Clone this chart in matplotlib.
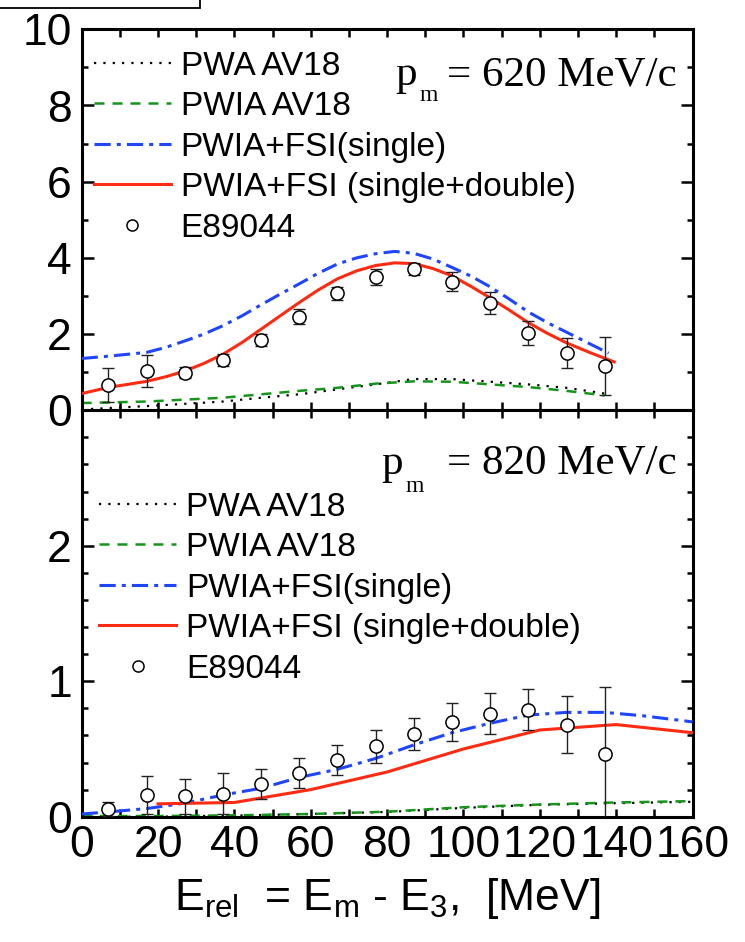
import matplotlib
matplotlib.use("Agg")
import matplotlib.pyplot as plt
from matplotlib.patches import Rectangle
from matplotlib.ticker import MultipleLocator

plt.rcParams['font.family'] = ['Liberation Sans', 'DejaVu Sans']
plt.rcParams['mathtext.fontset'] = 'custom'
plt.rcParams['mathtext.rm'] = 'Liberation Sans'
plt.rcParams['mathtext.it'] = 'Liberation Sans'
plt.rcParams['mathtext.bf'] = 'Liberation Sans:bold'

# ---------------- data ----------------
labels = ["PWA AV18", "PWIA AV18", "PWIA+FSI(single)", "PWIA+FSI (single+double)", "E89044"]

# experimental points (E89044)
E_data = [7, 17, 27, 37, 47, 57, 67, 77, 87, 97, 107, 117, 127, 137]
top_data = [0.67, 1.03, 0.99, 1.32, 1.85, 2.46, 3.07, 3.51, 3.71, 3.38, 2.81, 2.03, 1.50, 1.16]
top_err = [0.44, 0.42, 0.14, 0.15, 0.15, 0.20, 0.17, 0.21, 0.16, 0.24, 0.29, 0.32, 0.40, 0.77]
bot_data = [0.055, 0.16, 0.15, 0.17, 0.24, 0.32, 0.42, 0.52, 0.61, 0.70, 0.76, 0.79, 0.68, 0.46]
bot_err = [0.05, 0.14, 0.13, 0.15, 0.11, 0.11, 0.11, 0.12, 0.12, 0.14, 0.15, 0.15, 0.21, 0.50]

# top panel (p_m = 620 MeV/c) curves
top_pwa_E = [0, 7, 17, 27, 37, 47, 57, 67, 77, 87, 97, 107, 117, 127, 137]
top_pwa = [0.02, 0.06, 0.11, 0.17, 0.23, 0.33, 0.42, 0.55, 0.68, 0.82, 0.82, 0.75, 0.68, 0.59, 0.44]
top_pwia_E = [0, 17, 27, 37, 47, 57, 67, 77, 87, 97, 107, 117, 127, 137]
top_pwia = [0.19, 0.23, 0.28, 0.33, 0.42, 0.51, 0.59, 0.70, 0.76, 0.75, 0.68, 0.61, 0.51, 0.39]
top_single_E = [0, 7, 17, 22, 27, 32, 37, 42, 47, 52, 57, 62, 67, 72, 77, 82, 87, 92,
                97, 102, 107, 112, 117, 122, 127, 132, 138]
top_single = [1.36, 1.42, 1.52, 1.65, 1.82, 2.00, 2.22, 2.48, 2.77, 3.05, 3.32, 3.60, 3.84,
              4.00, 4.11, 4.17, 4.12, 3.97, 3.75, 3.52, 3.24, 2.92, 2.58, 2.30, 2.05, 1.80, 1.50]
top_double_E = [0, 7, 17, 22, 27, 32, 37, 42, 47, 52, 57, 62, 67, 72, 77, 82, 87, 92,
                97, 102, 107, 112, 117, 122, 127, 133, 139.5]
top_double = [0.44, 0.60, 0.76, 0.88, 1.03, 1.23, 1.47, 1.78, 2.13, 2.48, 2.83, 3.16, 3.45,
              3.66, 3.80, 3.87, 3.85, 3.72, 3.53, 3.25, 2.95, 2.63, 2.30, 2.02, 1.77, 1.52, 1.27]

# bottom panel (p_m = 820 MeV/c) curves
bot_pwa_E = [0, 20, 40, 60, 80, 100, 120, 140, 160]
bot_pwa = [0.0, 0.0, 0.008, 0.02, 0.035, 0.065, 0.088, 0.10, 0.11]
bot_pwia_E = [0, 20, 40, 60, 80, 100, 120, 140, 160]
bot_pwia = [0.005, 0.005, 0.01, 0.02, 0.037, 0.07, 0.09, 0.105, 0.115]
bot_single_E = [0, 7, 17, 27, 37, 47, 57, 67, 77, 87, 97, 107, 117, 127, 137, 147, 160]
bot_single = [0.02, 0.035, 0.06, 0.10, 0.16, 0.21, 0.29, 0.35, 0.43, 0.53, 0.62, 0.69,
              0.75, 0.77, 0.77, 0.745, 0.70]
bot_double_E = [20, 40, 60, 80, 100, 120, 140, 160]
bot_double = [0.095, 0.105, 0.20, 0.33, 0.50, 0.64, 0.68, 0.62]

xticks = [0, 20, 40, 60, 80, 100, 120, 140, 160]
top_yticks = [0, 2, 4, 6, 8, 10]
bot_yticks = [0, 1, 2]

# ---------------- styles ----------------
C_BLACK = "black"
C_GREEN = "#15951a"
C_BLUE = "#1f45ff"
C_RED = "#ff2a12"

W, H = 745, 942
fig = plt.figure(figsize=(W / 100, H / 100), dpi=100)

x0, x1 = 81.7, 692.5
y_top0, y_mid, y_bot1 = 29.3, 410.3, 816.7


def ax_rect(xl, xr, yt, yb):
    return [xl / W, 1 - yb / H, (xr - xl) / W, (yb - yt) / H]


ax1 = fig.add_axes(ax_rect(x0, x1, y_top0, y_mid))
ax2 = fig.add_axes(ax_rect(x0, x1, y_mid, y_bot1))


def draw_panel(ax, pwaE, pwa, pwiaE, pwia, sE, s, dE, d, vals, errs):
    ax.plot(pwaE, pwa, color=C_BLACK, lw=1.6, dashes=(1, 3.2), label=labels[0], zorder=2)
    ax.plot(pwiaE, pwia, color=C_GREEN, lw=1.8, dashes=(4, 3.2), label=labels[1], zorder=2)
    ax.plot(sE, s, color=C_BLUE, lw=2.2, dashes=(5.3, 2.0, 1.3, 2.0), label=labels[2], zorder=3)
    ax.plot(dE, d, color=C_RED, lw=2.2, label=labels[3], zorder=3)
    ax.errorbar(E_data, vals, yerr=errs, fmt='none', ecolor='#222222', elinewidth=1.0,
                capsize=4.3, capthick=1.0, zorder=4)
    ax.plot(E_data, vals, 'o', mfc='white', mec='black', ms=9.5, mew=1.1, label=labels[4],
            zorder=5)
    ax.set_xlim(0, 160)
    ax.xaxis.set_major_locator(MultipleLocator(20))
    ax.xaxis.set_minor_locator(MultipleLocator(10))
    ax.tick_params(axis='both', which='both', direction='in', top=True, right=True,
                   width=1.8, labelsize=32)
    ax.tick_params(axis='y', which='major', length=8.5, pad=7)
    ax.tick_params(axis='y', which='minor', length=4.5)
    ax.tick_params(axis='x', which='both', length=5.5, pad=6)
    for sp in ax.spines.values():
        sp.set_linewidth(2.2)


draw_panel(ax1, top_pwa_E, top_pwa, top_pwia_E, top_pwia, top_single_E, top_single,
           top_double_E, top_double, top_data, top_err)
draw_panel(ax2, bot_pwa_E, bot_pwa, bot_pwia_E, bot_pwia, bot_single_E, bot_single,
           bot_double_E, bot_double, bot_data, bot_err)

ax1.set_ylim(0, 10)
ax1.set_yticks(top_yticks)
ax1.yaxis.set_minor_locator(MultipleLocator(1))
ax1.set_xticks(xticks)
ax1.tick_params(axis='x', labelbottom=False)

ax2.set_ylim(0, 3.0)
ax2.set_yticks(bot_yticks)
ax2.yaxis.set_minor_locator(MultipleLocator(0.2))
ax2.set_xticks(xticks)
ax2.set_xticklabels([str(v) for v in xticks])

ax2.set_xlabel(r'E$_{\mathrm{rel}}$  = E$_{\mathrm{m}}$ - E$_{3}$,  [MeV]', fontsize=32,
               labelpad=7)

leg_kw = dict(loc='upper left', frameon=False, fontsize=24, handlelength=2.3,
              handletextpad=0.3, labelspacing=0.285, borderpad=0, borderaxespad=0,
              numpoints=1)
l1 = ax1.legend(bbox_to_anchor=(0.020, 0.944), **leg_kw)
l2 = ax2.legend(bbox_to_anchor=(0.029, 0.800), **leg_kw)
for leg in (l1, l2):
    for h in leg.legend_handles:
        if h.get_marker() == 'o':
            h.set_markersize(8)

# p_m annotations (Times-like serif)
serif = ['Liberation Serif', 'DejaVu Serif']


def fx(px):
    return px / W


def fy(py):
    return 1 - py / H


fig.text(fx(395), fy(85), "p", family=serif, fontsize=31, va='baseline', ha='left')
fig.text(fx(419), fy(101), "m", family=serif, fontsize=17, va='baseline', ha='left')
fig.text(fx(677), fy(85), "= 620 MeV/c", family=serif, fontsize=31, va='baseline', ha='right')

fig.text(fx(381), fy(474), "p", family=serif, fontsize=31, va='baseline', ha='left')
fig.text(fx(405), fy(492), "m", family=serif, fontsize=17, va='baseline', ha='left')
fig.text(fx(677), fy(474), "= 820 MeV/c", family=serif, fontsize=31, va='baseline', ha='right')

# clipped frame at the top-left corner of the image
fig.patches.append(Rectangle((-0.02, fy(7.5)), 200 / W + 0.02, 0.2, transform=fig.transFigure,
                             fill=False, lw=1.3, ec='black', clip_on=False))

fig.savefig("out.png", dpi=100)
